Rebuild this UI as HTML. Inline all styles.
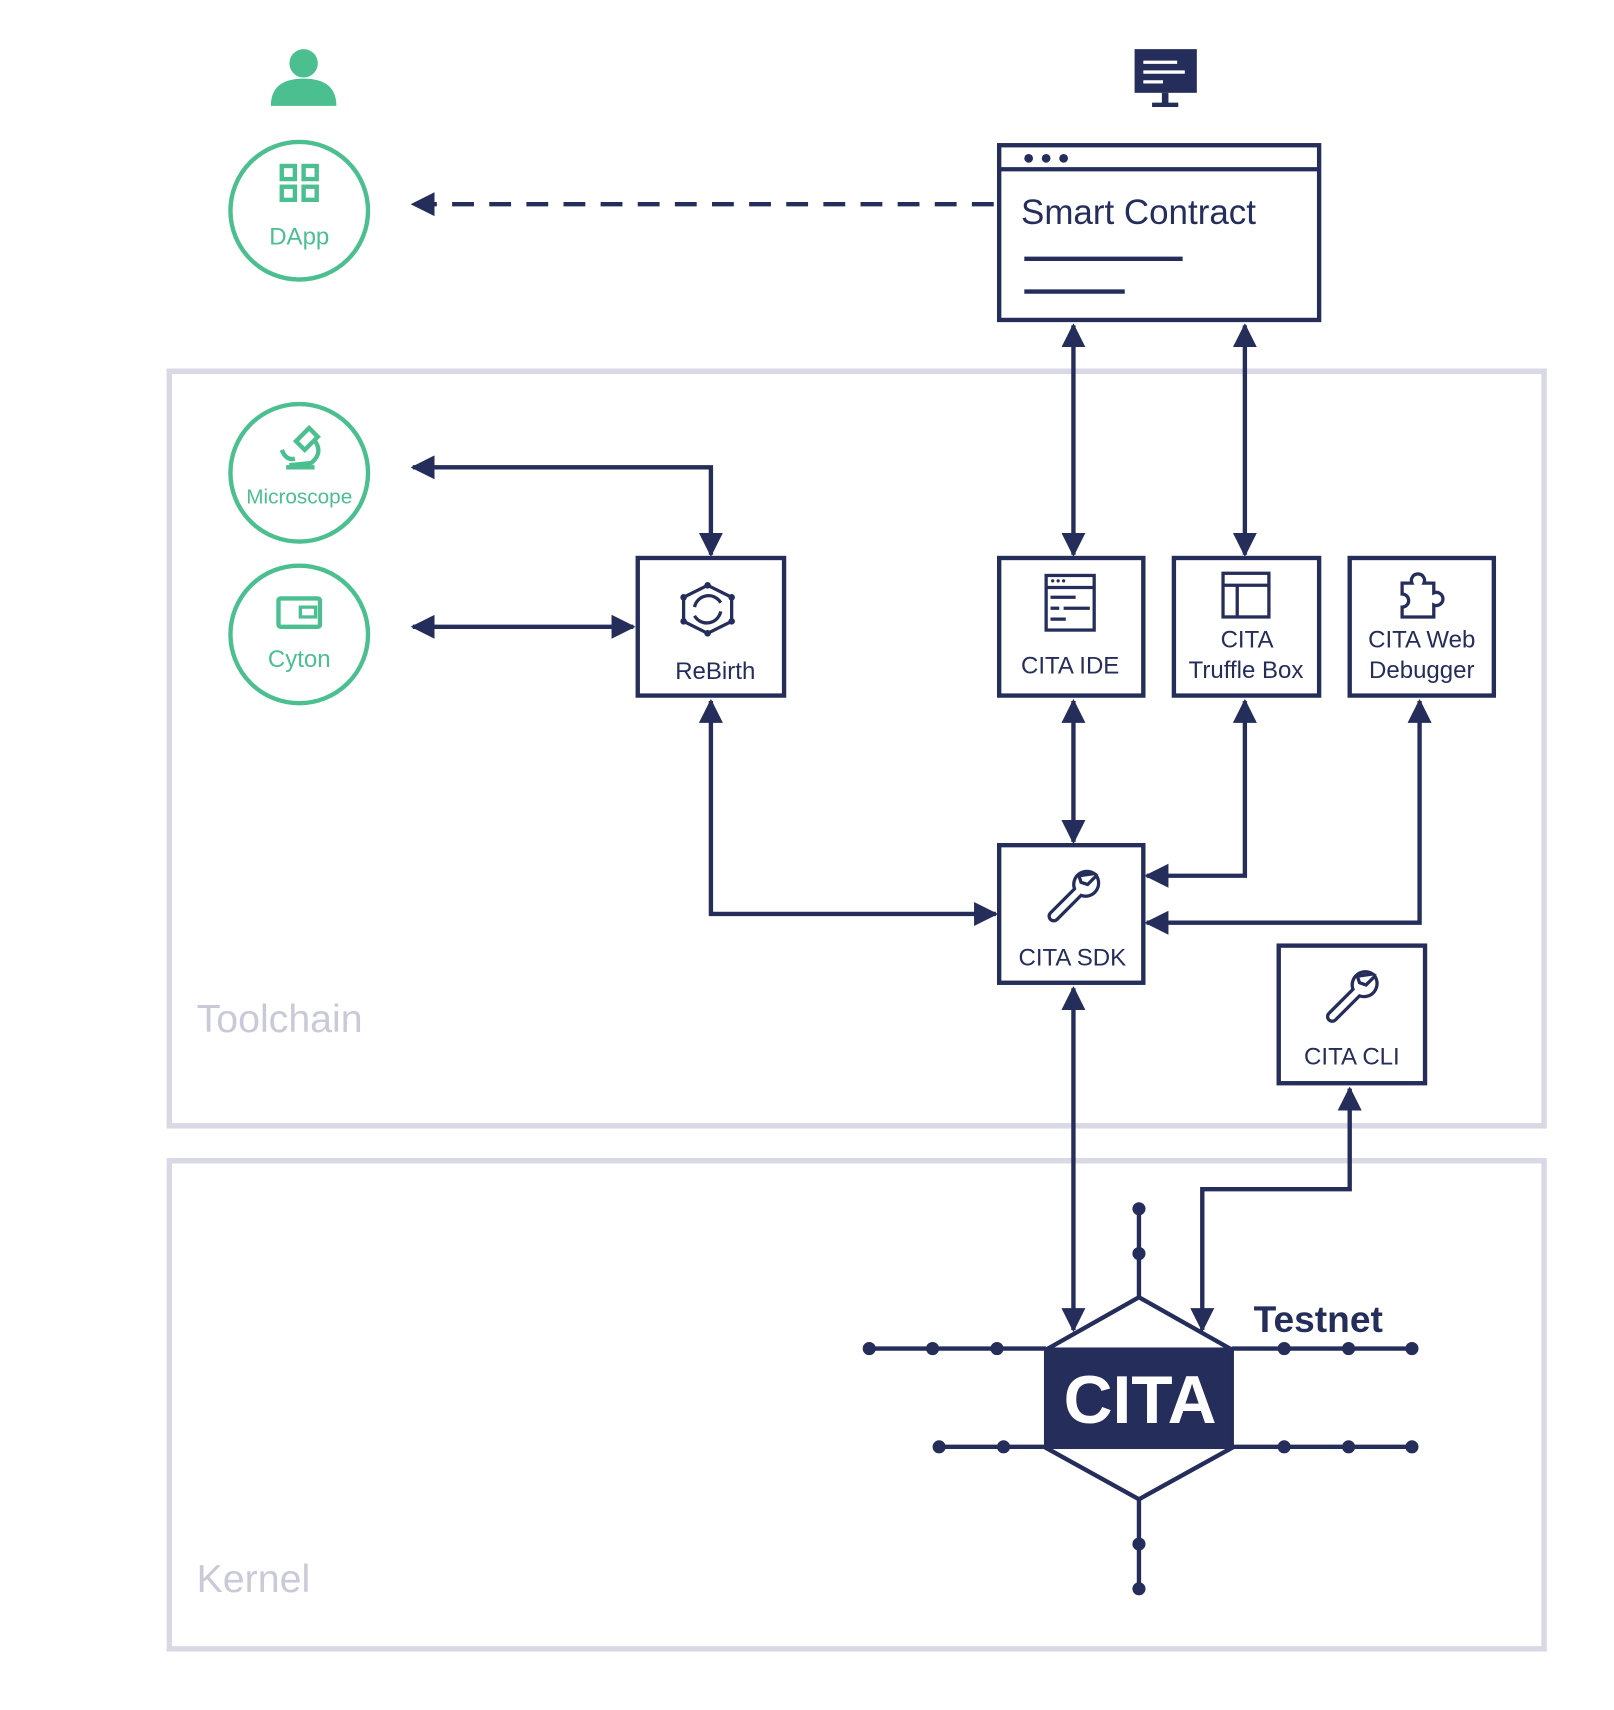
<!DOCTYPE html>
<html><head><meta charset="utf-8"><style>html,body{margin:0;padding:0;background:#fff}svg{display:block}</style></head><body>
<svg width="1614" height="1710" viewBox="0 0 1478 1566" xmlns="http://www.w3.org/2000/svg" font-family="Liberation Sans, sans-serif">
<defs>
<marker id="a" markerUnits="userSpaceOnUse" markerWidth="24" markerHeight="24" refX="20" refY="12" orient="auto-start-reverse" viewBox="0 0 24 24"><path d="M0,1 L22,12 L0,23 Z" fill="#252d5a"/></marker>
</defs>
<g fill="none" stroke="#d8d9e4" stroke-width="5">
<rect x="155" y="340" width="1259" height="691"/>
<rect x="155" y="1063" width="1259" height="447"/>
</g>
<text x="180" y="945" font-size="36" fill="#c9cad8">Toolchain</text>
<text x="180" y="1458" font-size="36" fill="#c9cad8">Kernel</text>
<circle cx="278" cy="58" r="13" fill="#4bbf8f"/>
<path d="M248,97 Q248,72 278,72 Q308,72 308,97 Z" fill="#4bbf8f"/>
<rect x="1039" y="45" width="57" height="40" fill="#252d5a"/>
<g stroke="#fff" stroke-width="3"><line x1="1047" y1="57" x2="1078" y2="57"/><line x1="1047" y1="66" x2="1085" y2="66"/><line x1="1047" y1="75" x2="1065" y2="75"/></g>
<rect x="1064" y="85" width="6" height="10" fill="#252d5a"/><rect x="1055" y="94" width="24" height="4" fill="#252d5a"/>
<g fill="none" stroke="#4bbf8f" stroke-width="4">
<circle cx="274" cy="193" r="63"/><circle cx="274" cy="433" r="63"/><circle cx="274" cy="581" r="63"/>
<rect x="258" y="152" width="12" height="12"/><rect x="278" y="152" width="12" height="12"/><rect x="258" y="171" width="12" height="12"/><rect x="278" y="171" width="12" height="12"/>
<rect x="255" y="548" width="38" height="26" rx="2"/><rect x="275" y="556" width="14" height="9" stroke-width="3"/>
<path d="M283,392 L291,400 L279,412 L271,404 Z" stroke-width="4"/><path d="M287,402 Q297,414 285,424 L265,426" /><path d="M258,412 Q262,422 270,420"/><line x1="262" y1="428" x2="288" y2="428"/>
</g>
<g fill="#4bbf8f" text-anchor="middle"><text x="274" y="224" font-size="22">DApp</text><text x="274" y="461" font-size="19">Microscope</text><text x="274" y="611" font-size="22">Cyton</text></g>
<g fill="none" stroke="#252d5a" stroke-width="4">
<rect x="915" y="133" width="293" height="160"/><line x1="915" y1="155" x2="1208" y2="155"/>
<line x1="938" y1="237" x2="1083" y2="237"/><line x1="938" y1="267" x2="1030" y2="267"/>
<rect x="584" y="511" width="134" height="126"/>
<rect x="915" y="511" width="132" height="126"/>
<rect x="1075" y="511" width="133" height="126"/>
<rect x="1236" y="511" width="132" height="126"/>
<rect x="915" y="774" width="132" height="126"/>
<rect x="1171" y="866" width="134" height="126"/>
</g>
<g fill="#252d5a"><circle cx="942" cy="145" r="4"/><circle cx="958" cy="145" r="4"/><circle cx="974" cy="145" r="4"/></g>
<text x="935" y="205" font-size="32" fill="#252d5a">Smart Contract</text>
<g fill="#252d5a" text-anchor="middle" font-size="22">
<text x="655" y="622">ReBirth</text><text x="980" y="617">CITA IDE</text>
<text x="1142" y="593">CITA</text><text x="1141" y="621">Truffle Box</text>
<text x="1302" y="593">CITA Web</text><text x="1302" y="621">Debugger</text>
<text x="982" y="884">CITA SDK</text><text x="1238" y="975">CITA CLI</text>
</g>
<g fill="none" stroke="#252d5a" stroke-width="3">
<rect x="958" y="527" width="44" height="50"/><line x1="958" y1="538" x2="1002" y2="538"/>
<line x1="962" y1="547" x2="985" y2="547"/><line x1="962" y1="557" x2="970" y2="557"/><line x1="974" y1="557" x2="998" y2="557"/><line x1="962" y1="567" x2="976" y2="567"/>
<rect x="1120" y="525" width="42" height="40"/><line x1="1120" y1="536" x2="1162" y2="536"/><line x1="1133" y1="536" x2="1133" y2="565"/>
<path d="M1284,534 h9 a6,6 0 1 1 11,0 h9 v9 a6,6 0 1 1 0,11 v11 h-29 v-9 a6,6 0 1 0 0,-12 z"/>
<polygon points="648,536 670,547 670,569 648,580 626,569 626,547"/>
<path d="M660,552 a13,13 0 0 0 -24,4 M636,564 a13,13 0 0 0 24,-4"/>
<path d="M1002,800 a12,12 0 0 0 -18,14 l-22,22 a4,4 0 0 0 6,6 l22,-22 a12,12 0 0 0 14,-18 l-8,8 -6,-2 -2,-6 z"/>
<path d="M1257,892 a12,12 0 0 0 -18,14 l-22,22 a4,4 0 0 0 6,6 l22,-22 a12,12 0 0 0 14,-18 l-8,8 -6,-2 -2,-6 z"/>
</g>
<g fill="#252d5a"><circle cx="648" cy="536" r="3"/><circle cx="670" cy="547" r="3"/><circle cx="670" cy="569" r="3"/><circle cx="648" cy="580" r="3"/><circle cx="626" cy="569" r="3"/><circle cx="626" cy="547" r="3"/>
<circle cx="964" cy="532" r="1.5"/><circle cx="969" cy="532" r="1.5"/><circle cx="974" cy="532" r="1.5"/></g>
<g fill="none" stroke="#252d5a" stroke-width="4">
<line x1="910" y1="187" x2="378" y2="187" stroke-dasharray="20,14" marker-end="url(#a)"/>
<polyline points="378,428 651,428 651,508" marker-start="url(#a)" marker-end="url(#a)"/>
<line x1="378" y1="574" x2="580" y2="574" marker-start="url(#a)" marker-end="url(#a)"/>
<line x1="983" y1="298" x2="983" y2="508" marker-start="url(#a)" marker-end="url(#a)"/>
<line x1="1140" y1="298" x2="1140" y2="508" marker-start="url(#a)" marker-end="url(#a)"/>
<line x1="983" y1="642" x2="983" y2="771" marker-start="url(#a)" marker-end="url(#a)"/>
<polyline points="1140,642 1140,802 1050,802" marker-start="url(#a)" marker-end="url(#a)"/>
<polyline points="1300,642 1300,845 1050,845" marker-start="url(#a)" marker-end="url(#a)"/>
<polyline points="651,642 651,837 912,837" marker-start="url(#a)" marker-end="url(#a)"/>
<line x1="983" y1="905" x2="983" y2="1218" marker-start="url(#a)" marker-end="url(#a)"/>
<polyline points="1236,997 1236,1089 1101,1089 1101,1218" marker-start="url(#a)" marker-end="url(#a)"/>
<polygon points="1043,1188 1128,1236 1128,1326 1043,1373 958,1326 958,1236"/>
<line x1="1043" y1="1105" x2="1043" y2="1188"/><line x1="1043" y1="1373" x2="1043" y2="1455"/>
<line x1="796" y1="1235" x2="958" y2="1235"/><line x1="1128" y1="1235" x2="1293" y2="1235"/>
<line x1="860" y1="1325" x2="958" y2="1325"/><line x1="1128" y1="1325" x2="1293" y2="1325"/>
</g>
<rect x="958" y="1234" width="170" height="93" fill="#252d5a"/>
<g fill="#252d5a">
<circle cx="1043" cy="1107" r="6"/><circle cx="1043" cy="1148" r="6"/><circle cx="1043" cy="1414" r="6"/><circle cx="1043" cy="1455" r="6"/>
<circle cx="796" cy="1235" r="6"/><circle cx="854" cy="1235" r="6"/><circle cx="913" cy="1235" r="6"/>
<circle cx="1176" cy="1235" r="6"/><circle cx="1235" cy="1235" r="6"/><circle cx="1293" cy="1235" r="6"/>
<circle cx="860" cy="1325" r="6"/><circle cx="919" cy="1325" r="6"/>
<circle cx="1176" cy="1325" r="6"/><circle cx="1235" cy="1325" r="6"/><circle cx="1293" cy="1325" r="6"/>
</g>
<text x="1044" y="1303" font-size="62" font-weight="bold" fill="#fff" text-anchor="middle">CITA</text>
<text x="1148" y="1220" font-size="34" font-weight="bold" fill="#252d5a">Testnet</text>
</svg>
</body></html>
